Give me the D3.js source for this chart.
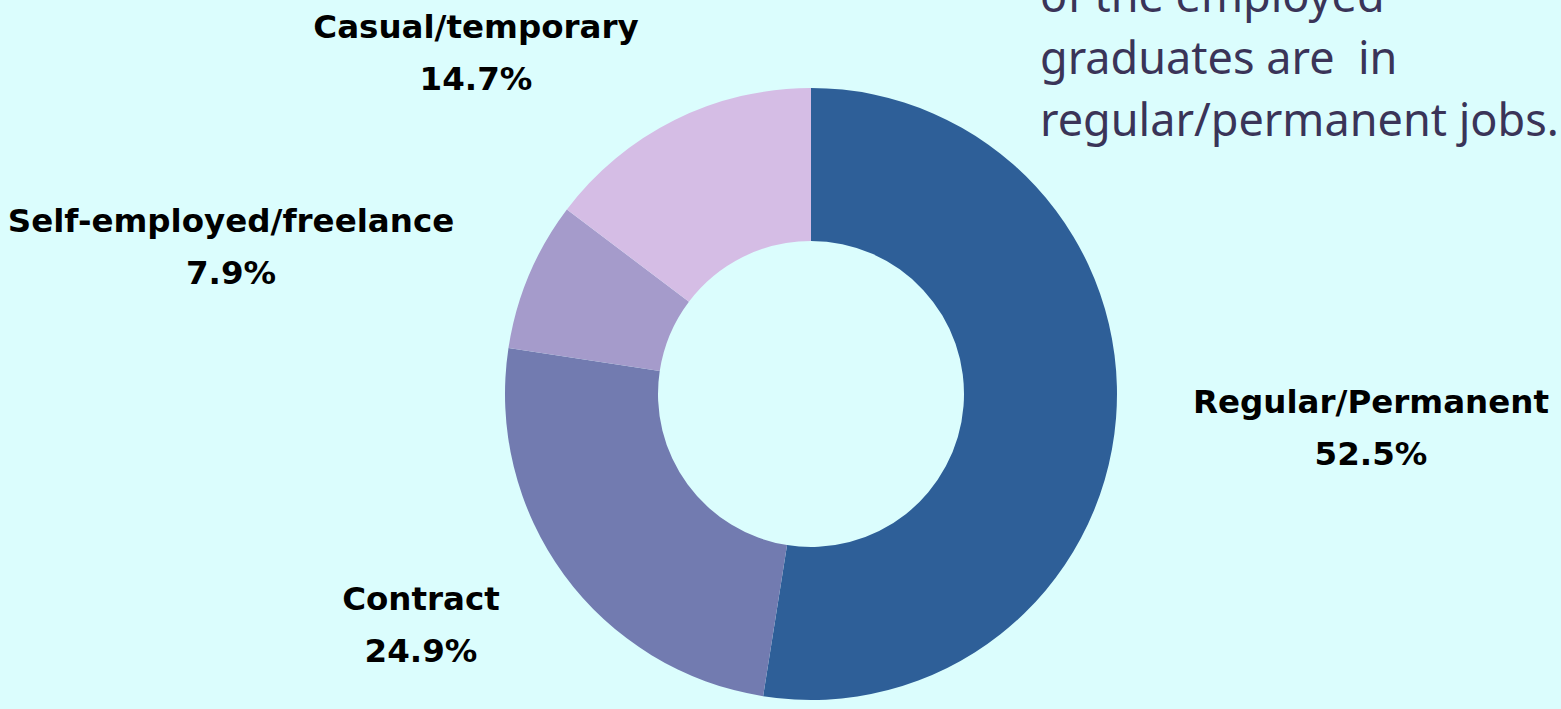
<!DOCTYPE html>
<html>
<head>
<meta charset="utf-8">
<script src="https://cdn.jsdelivr.net/npm/d3@7"></script>
<style>
  html, body { margin: 0; padding: 0; background: #dbfdfd; overflow: hidden; }
  svg { display: block; }
</style>
</head>
<body>
<div id="chart"></div>
<script>
// Employment type of employed graduates (donut)

const categories = ['Regular/Permanent', 'Contract', 'Self-employed/freelance', 'Casual/temporary'];
const shares = [52.5, 24.9, 7.9, 14.7];
const sliceColors = ['#2e5f98', '#727bb0', '#a59bcb', '#d5bde5'];
const noteLines = ['of the employed', 'graduates are  in', 'regular/permanent jobs.'];

// label anchor spots (baseline of the first line, centred)
const LABEL_POS = [
    { x: 1371, y: 413 },
    { x: 421, y: 610 },
    { x: 231, y: 232 },
    { x: 476, y: 38 },
];

const width = 1561;
const height = 709;
const cx = 811, cy = 394;
const outerR = 306, innerR = 153;

const svg = d3.select('#chart')
    .append('svg')
    .attr('width', width)
    .attr('height', height);

svg.append('rect')
    .attr('width', width)
    .attr('height', height)
    .attr('fill', '#dbfdfd');

const data = categories.map((c, i) => ({ name: c, value: shares[i], color: sliceColors[i] }));

const pie = d3.pie()
    .sort(null)
    .value(d => d.value);

const arc = d3.arc()
    .innerRadius(innerR)
    .outerRadius(outerR);

const g = svg.append('g')
    .attr('transform', `translate(${cx},${cy})`);

g.selectAll('path')
    .data(pie(data))
    .join('path')
    .attr('d', arc)
    .attr('fill', d => d.data.color);

// Slice labels
const labels = svg.append('g')
    .attr('font-family', '"DejaVu Sans", sans-serif')
    .attr('font-weight', 700)
    .attr('font-size', '32.5px')
    .attr('fill', '#000')
    .attr('text-anchor', 'middle');

data.forEach((d, i) => {
    const t = labels.append('text')
        .attr('x', LABEL_POS[i].x)
        .attr('y', LABEL_POS[i].y);
    t.append('tspan').attr('x', LABEL_POS[i].x).text(d.name);
    t.append('tspan').attr('x', LABEL_POS[i].x).attr('dy', 52).text(d.value.toFixed(1) + '%');
});

// Note text, top right (first line runs off the top, as in the source)
const note = svg.append('text')
    .attr('font-family', '"Noto Sans", "Open Sans", sans-serif')
    .attr('font-size', '45px')
    .attr('fill', '#3a3458');

noteLines.forEach((line, i) => {
    note.append('tspan')
        .attr('x', 1040)
        .attr('y', 12 + i * 62)
        .style('white-space', 'pre')
        .text(line);
});
</script>
</body>
</html>
